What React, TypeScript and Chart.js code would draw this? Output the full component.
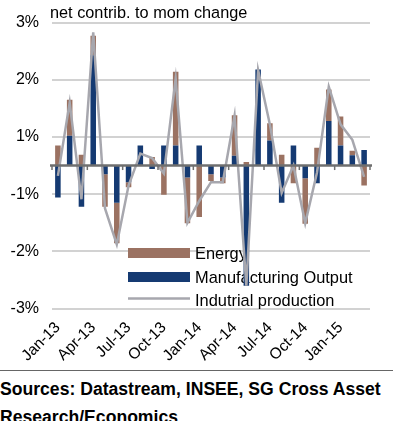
import React, { useEffect, useRef } from 'react';
import { Chart, registerables } from 'chart.js';

Chart.register(...registerables);

const categories = [
  'Jan-13', 'Feb-13', 'Mar-13', 'Apr-13', 'May-13', 'Jun-13', 'Jul-13', 'Aug-13', 'Sep-13',
  'Oct-13', 'Nov-13', 'Dec-13', 'Jan-14', 'Feb-14', 'Mar-14', 'Apr-14', 'May-14', 'Jun-14',
  'Jul-14', 'Aug-14', 'Sep-14', 'Oct-14', 'Nov-14', 'Dec-14', 'Jan-15', 'Feb-15', 'Mar-15',
];

const energy = [
  0.35, 0.63, 0.19, 0.34, -0.57, -0.71, -0.09, 0.0, 0.15,
  -0.51, 1.29, -0.8, -0.9, -0.12, -0.1, 0.71, 0.06, 0.0,
  0.3, 0.19, -0.31, -0.8, 0.31, 0.55, 0.51, 0.08, -0.35,
];

const manufacturing = [
  -0.56, 0.52, -0.72, 1.93, -0.15, -0.65, -0.29, 0.35, -0.06,
  0.35, 0.35, -0.21, 0.35, -0.15, -0.21, 0.17, -2.1, 1.68,
  0.44, -0.65, 0.35, -0.22, -0.31, 0.78, 0.35, 0.18, 0.27,
];

const industrial = [
  -0.18, 1.1, -0.59, 2.33, -0.75, -1.38, -0.35, 0.21, 0.13,
  -0.14, 1.52, -1.0, -0.62, -0.29, -0.29, 0.87, -2.1, 1.67,
  0.72, -0.48, 0.0, -1.01, -0.12, 1.38, 0.72, 0.45, -0.2,
];

const yTickValues = [-2.5, -1.5, -0.5, 0.5, 1.5, 2.5];
const yTickLabels = ['-3%', '-2%', '-1%', '1%', '2%', '3%'];
const xLabelEvery = 3;

const titleText = 'net contrib. to mom change';
const seriesNames = ['Energy', 'Manufacturing Output', 'Indutrial production'];
const sourceLines = ['Sources: Datastream, INSEE, SG Cross Asset', 'Research/Economics'];

const FONT = '"Liberation Sans", Arial, Helvetica, sans-serif';
const BROWN = '#9b7262';
const NAVY = '#153a72';
const GREY_LINE = '#a7a7ae';

const overlayPlugin = {
  id: 'overlay',
  beforeDatasetsDraw(chart: any) {
    const { ctx, chartArea } = chart;
    const sx = chartArea.left + 76;
    const sw = 62;
    ctx.save();
    ctx.fillStyle = BROWN;
    ctx.fillRect(sx, 248, sw, 10);
    ctx.fillStyle = NAVY;
    ctx.fillRect(sx, 272, sw, 10);
    ctx.strokeStyle = GREY_LINE;
    ctx.lineWidth = 2.5;
    ctx.beginPath();
    ctx.moveTo(sx, 298.5);
    ctx.lineTo(sx + sw, 298.5);
    ctx.stroke();
    ctx.fillStyle = '#000';
    ctx.font = `16.4px ${FONT}`;
    ctx.textBaseline = 'alphabetic';
    ctx.textAlign = 'left';
    ctx.fillText(seriesNames[0], sx + sw + 5, 259);
    ctx.fillText(seriesNames[1], sx + sw + 5, 283);
    ctx.fillText(seriesNames[2], sx + sw + 5, 306);
    ctx.restore();
  },
  afterDatasetsDraw(chart: any) {
    const { ctx, chartArea, scales } = chart;
    const y0 = scales.y.getPixelForValue(0);
    const xs = scales.x;
    const n = categories.length;
    const step = (xs.getPixelForValue(n - 1) - xs.getPixelForValue(0)) / (n - 1);
    ctx.save();
    ctx.strokeStyle = '#6f6f6f';
    ctx.lineWidth = 2.5;
    ctx.beginPath();
    ctx.moveTo(chartArea.left - 2, y0);
    ctx.lineTo(chartArea.right + 2, y0);
    ctx.stroke();
    ctx.lineWidth = 1.5;
    for (let k = 0; k <= n; k += xLabelEvery) {
      const x = xs.getPixelForValue(0) - step / 2 + k * step;
      ctx.beginPath();
      ctx.moveTo(x, y0);
      ctx.lineTo(x, y0 + 4.5);
      ctx.stroke();
    }
    ctx.restore();
  },
  afterDraw(chart: any) {
    const { ctx, chartArea } = chart;
    ctx.save();
    ctx.fillStyle = '#000';
    ctx.font = `16.3px ${FONT}`;
    ctx.textBaseline = 'alphabetic';
    ctx.textAlign = 'left';
    ctx.fillText(titleText, chartArea.left - 2, 18);
    ctx.restore();
  },
};

export default function App() {
  const canvasRef = useRef<HTMLCanvasElement | null>(null);

  useEffect(() => {
    document.body.style.margin = '0';
    const canvas = canvasRef.current;
    if (!canvas) return;
    const chart = new Chart(canvas, {
      type: 'bar',
      data: {
        labels: categories,
        datasets: [
          {
            type: 'line',
            label: seriesNames[2],
            data: industrial,
            borderColor: GREY_LINE,
            backgroundColor: GREY_LINE,
            borderWidth: 2.5,
            pointRadius: 0,
            tension: 0,
            stack: 'ip',
            order: 0,
          } as any,
          {
            type: 'bar',
            label: seriesNames[1],
            data: manufacturing,
            backgroundColor: NAVY,
            stack: 'bars',
            order: 1,
            categoryPercentage: 1,
            barPercentage: 0.47,
          },
          {
            type: 'bar',
            label: seriesNames[0],
            data: energy,
            backgroundColor: BROWN,
            stack: 'bars',
            order: 2,
            categoryPercentage: 1,
            barPercentage: 0.47,
          },
        ],
      },
      options: {
        responsive: false,
        animation: false,
        devicePixelRatio: 1,
        layout: { padding: { top: 22, right: 23, left: 0, bottom: 0 } },
        plugins: {
          legend: { display: false },
          title: { display: false },
          tooltip: { enabled: false },
        },
        scales: {
          x: {
            stacked: true,
            grid: { display: false },
            border: { display: false },
            ticks: {
              autoSkip: false,
              maxRotation: 45,
              minRotation: 45,
              padding: 2,
              color: '#000',
              font: { family: FONT, size: 15.5 },
              callback: (_v: any, i: number) => (i % xLabelEvery === 0 ? categories[i] : ''),
            },
            afterFit: (scale: any) => {
              scale.height = 61.5;
            },
          },
          y: {
            stacked: true,
            min: -2.5,
            max: 2.5,
            grid: { color: '#d2d2d2', lineWidth: 2, drawTicks: false },
            border: { display: false },
            ticks: {
              padding: 13,
              color: '#000',
              font: { family: FONT, size: 16 },
              callback: (v: any) => {
                const idx = yTickValues.indexOf(Number(v));
                return idx >= 0 ? yTickLabels[idx] : '';
              },
            },
            afterBuildTicks: (scale: any) => {
              scale.ticks = yTickValues.map((v) => ({ value: v }));
            },
            afterFit: (scale: any) => {
              scale.width = 52;
            },
          },
        },
      },
      plugins: [overlayPlugin],
    });
    return () => chart.destroy();
  }, []);

  return (
    <div style={{ position: 'relative', width: 393, height: 421, overflow: 'hidden', background: '#fff' }}>
      <canvas ref={canvasRef} width={393} height={370} style={{ display: 'block' }} />
      <div style={{ position: 'absolute', left: 0, top: 370, width: 393, height: 0, borderTop: '1.5px solid #666' }} />
      <div
        style={{
          position: 'absolute',
          left: 0,
          top: 375,
          fontFamily: FONT,
          fontWeight: 'bold',
          fontSize: 17.6,
          lineHeight: '28px',
          color: '#000',
          whiteSpace: 'nowrap',
        }}
      >
        <div>{sourceLines[0]}</div>
        <div>{sourceLines[1]}</div>
      </div>
    </div>
  );
}
